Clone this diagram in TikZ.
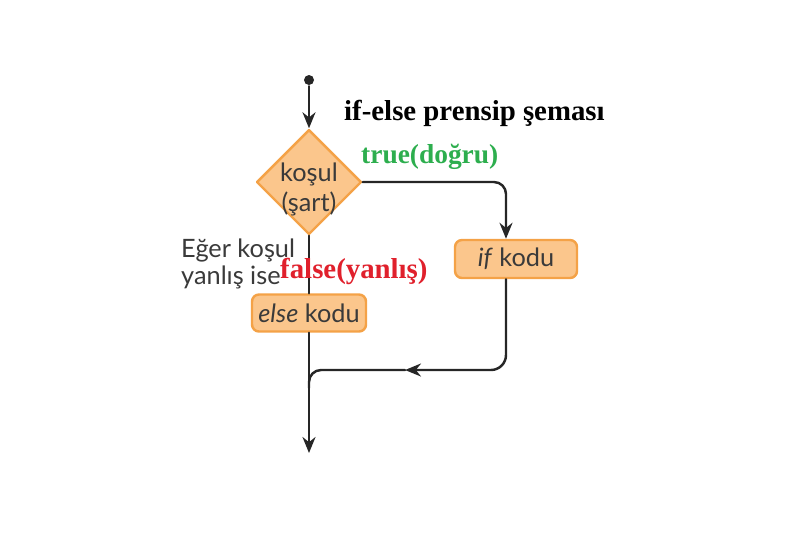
\documentclass[tikz,border=0pt]{standalone}
\usepackage{fontspec}
\setmainfont{Liberation Serif}
\setsansfont{Lato}
\usetikzlibrary{shapes.geometric,arrows.meta}
\definecolor{boxfill}{HTML}{FBC68C}
\definecolor{boxline}{HTML}{F4A247}
\definecolor{txtgray}{HTML}{3A3A3A}
\definecolor{truegreen}{HTML}{2DAE4E}
\definecolor{falsered}{HTML}{E0202C}
\tikzset{
	box/.style={draw=boxline, fill=boxfill, line width=0.7pt, rounded corners=0.07cm, inner sep=0pt, text=txtgray, font=\sffamily\fontsize{7.2}{8.2}\selectfont},
	cond/.style={diamond, aspect=1, draw=boxline, fill=boxfill, line width=0.7pt, inner sep=0pt, minimum width=1.05cm, minimum height=1.05cm, text=txtgray, align=center, font=\sffamily\fontsize{7.2}{8.4}\selectfont},
	lbl/.style={inner sep=0pt, font=\bfseries\fontsize{8.2}{9}\selectfont}
}
\begin{document}
\begin{tikzpicture}[line join=round, line cap=round, >={Stealth[length=1.6mm,width=1.3mm]}, line width=0.7pt, color=black!85]
	\useasboundingbox (0,0) rectangle (8,5.33);
	% nodes
	\node[circle, fill=black!85, inner sep=0pt, minimum size=0.1cm] (start) at (3.09,4.53) {};
	\node[cond] (kosul) at (3.09,3.51) {\raisebox{-0.29cm}[0pt][0pt]{\shortstack{ko\c sul\\[-0.05cm](\c sart)}}};
	\node[box, minimum width=1.22cm, minimum height=0.38cm] (ifkod) at (5.16,2.74) {\textit{if} kodu};
	\node[box, minimum width=1.14cm, minimum height=0.37cm] (elsekod) at (3.09,2.2) {\textit{else} kodu};
	\coordinate (back) at (4.05,1.63);
	\coordinate (join) at (3.09,1.45);
	\coordinate (end) at (3.09,0.80);
	% labels
	\node[lbl, anchor=base west, text=black] (title) at (3.43,4.13) {if-else prensip \c semas\i};
	\node[lbl, anchor=base west, text=truegreen, font=\bfseries\fontsize{7.8}{9}\selectfont] (truelbl) at (3.60,3.70) {true(do\u{g}ru)};
	\node[inner sep=0pt, anchor=west, align=left, text=txtgray, font=\sffamily\fontsize{7.2}{7.7}\selectfont] (eger) at (1.80,2.69) {E\u{g}er ko\c sul\\yanl\i\c s ise};
	% connectors
	\draw[->] (start) -- (kosul.north);
	\draw[->, rounded corners=0.12cm] (kosul.east) -| ([xshift=-0.1cm]ifkod.north);
	\draw (kosul.south) -- (elsekod.north);
	\draw[->] (elsekod.south) -- (end);
	\draw[->, rounded corners=0.15cm] ([xshift=-0.1cm]ifkod.south) |- (back);
	\draw[rounded corners=0.12cm] (back) -| (join);
	\node[lbl, anchor=base west, text=falsered] (falselbl) at (2.79,2.55) {false(yanl\i\c s)};
\end{tikzpicture}
\end{document}
